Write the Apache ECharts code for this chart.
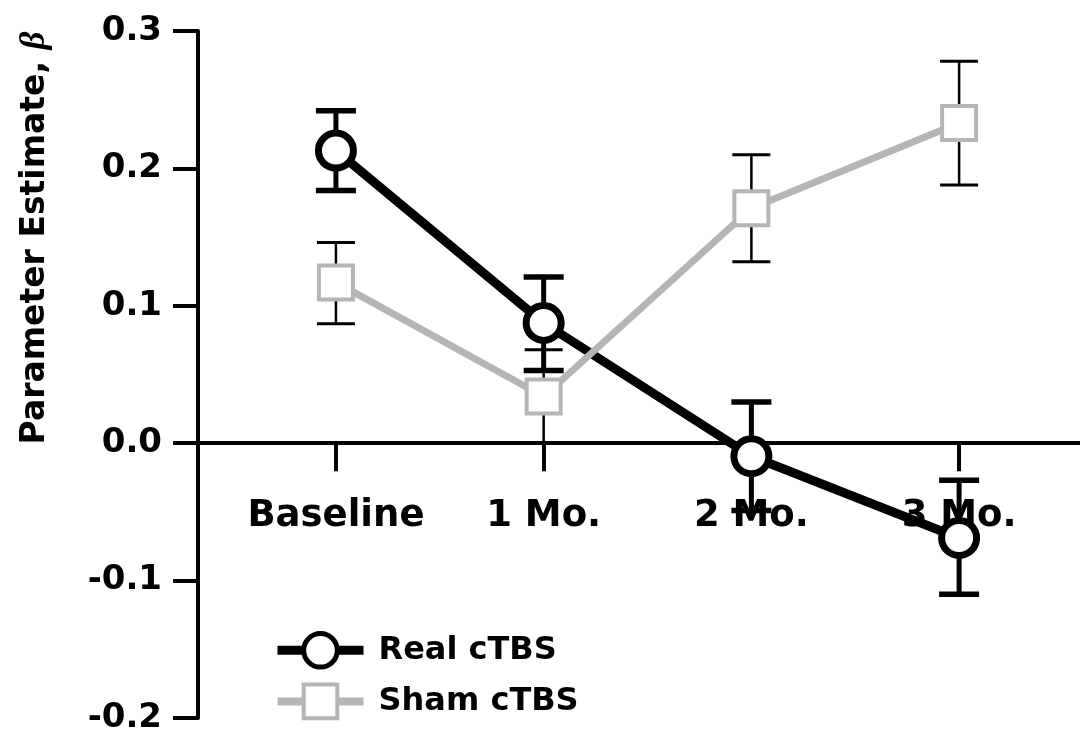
<!DOCTYPE html>
<html>
<head>
<meta charset="utf-8">
<script src="https://cdn.jsdelivr.net/npm/echarts@6/dist/echarts.min.js"></script>
<style>
html,body{margin:0;padding:0;background:#fff;}
#chart{width:1080px;height:738px;}
</style>
</head>
<body>
<div id="chart"></div>
<script>
const categories = ['Baseline', '1 Mo.', '2 Mo.', '3 Mo.'];
const realMean = [0.213, 0.0875, -0.0095, -0.069];
const realLow  = [0.184, 0.053, -0.049, -0.110];
const realHigh = [0.242, 0.121, 0.030, -0.027];
const shamMean = [0.117, 0.034, 0.171, 0.233];
const shamLow  = [0.087, 0.000, 0.132, 0.188];
const shamHigh = [0.146, 0.068, 0.210, 0.278];
const yTickLabels = ['-0.2', '-0.1', '0.0', '0.1', '0.2', '0.3'];
const seriesNames = ['Real cTBS', 'Sham cTBS'];
const yTitle = 'Parameter Estimate, ';
const yTitleSymbol = 'β';

const FONT = '"DejaVu Sans", sans-serif';
const GRAY = '#b5b5b5';
const X_MIN = -0.664, X_MAX = 3.582;

const catIdx = categories.map((c, i) => i);
const realLine = catIdx.map(i => [i, realMean[i]]);
const shamLine = catIdx.map(i => [i, shamMean[i]]);
const realErr = catIdx.map(i => [i, realLow[i], realHigh[i]]);
const shamErr = catIdx.map(i => [i, shamLow[i], shamHigh[i]]);

function errRender(width, capWidth, capHalf, color) {
  return function (params, api) {
    const x = api.value(0), lo = api.value(1), hi = api.value(2);
    const pLo = api.coord([x, lo]), pHi = api.coord([x, hi]);
    const st = {stroke: color, lineWidth: width};
    const cs = {stroke: color, lineWidth: capWidth};
    return {
      type: 'group',
      children: [
        {type: 'line', shape: {x1: pLo[0], y1: pLo[1], x2: pHi[0], y2: pHi[1]}, style: st},
        {type: 'line', shape: {x1: pLo[0] - capHalf, y1: pLo[1], x2: pLo[0] + capHalf, y2: pLo[1]}, style: cs},
        {type: 'line', shape: {x1: pHi[0] - capHalf, y1: pHi[1], x2: pHi[0] + capHalf, y2: pHi[1]}, style: cs}
      ]
    };
  };
}

const chart = echarts.init(document.getElementById('chart'), null, {renderer: 'canvas'});
chart.setOption({
  animation: false,
  backgroundColor: '#fff',
  grid: [
    {left: 198, right: 0, top: 31, bottom: 20, outerBoundsMode: 'none', containLabel: false},
    // label grid: bottom edge sits on the zero line
    {left: 198, right: 0, top: 31, bottom: 296, outerBoundsMode: 'none', containLabel: false}
  ],
  xAxis: [{
    type: 'value', gridIndex: 0,
    min: X_MIN, max: X_MAX,
    splitLine: {show: false},
    axisLine: {show: true, onZero: true, lineStyle: {color: '#000', width: 4}},
    axisTick: {show: true, customValues: catIdx, length: 28, lineStyle: {color: '#000', width: 4}},
    axisLabel: {show: false}
  }, {
    type: 'value', gridIndex: 1,
    min: X_MIN, max: X_MAX,
    splitLine: {show: false},
    axisLine: {show: false},
    axisTick: {show: false},
    axisLabel: {
      show: true, customValues: catIdx, margin: 56,
      formatter: v => categories[Math.round(v)],
      color: '#000', fontFamily: FONT, fontWeight: 'bold', fontSize: 37
    }
  }],
  yAxis: [{
    type: 'value', gridIndex: 0,
    min: -0.2, max: 0.3, interval: 0.1,
    splitLine: {show: false},
    axisLine: {show: true, onZero: false, lineStyle: {color: '#000', width: 4}},
    axisTick: {show: true, length: 25, lineStyle: {color: '#000', width: 4}},
    axisLabel: {
      margin: 36,
      formatter: v => yTickLabels[Math.round((v + 0.2) / 0.1)],
      color: '#000', fontFamily: FONT, fontWeight: 'bold', fontSize: 34
    }
  }, {
    type: 'value', gridIndex: 1, show: false, min: 0, max: 1
  }],
  legend: {
    orient: 'vertical',
    left: 273, top: 631, padding: 0,
    itemWidth: 86, itemHeight: 42, itemGap: 13,
    selectedMode: false,
    textStyle: {color: '#000', fontFamily: FONT, fontWeight: 'bold', fontSize: 32, padding: [0, 0, 0, 10]},
    data: [
      {name: seriesNames[0], itemStyle: {borderWidth: 5}, lineStyle: {width: 9}},
      {name: seriesNames[1], itemStyle: {borderWidth: 4}, lineStyle: {width: 8}}
    ]
  },
  graphic: [{
    type: 'text', x: 35, y: 238, rotation: Math.PI / 2,
    style: {
      text: '{a|' + yTitle + '}{b|' + yTitleSymbol + '}',
      align: 'center', verticalAlign: 'middle', fill: '#000',
      rich: {
        a: {fontFamily: FONT, fontWeight: 'bold', fontSize: 33, fill: '#000'},
        b: {fontFamily: '"Liberation Serif", serif', fontStyle: 'italic', fontWeight: 'bold', fontSize: 35, fill: '#000'}
      }
    }
  }],
  series: [
    {
      type: 'custom', name: 'shamErr', z: 3, silent: true,
      xAxisIndex: 0, yAxisIndex: 0,
      renderItem: errRender(2.5, 3, 19, '#000'),
      encode: {x: 0, y: [1, 2]},
      data: shamErr
    },
    {
      type: 'custom', name: 'realErr', z: 4, silent: true,
      xAxisIndex: 0, yAxisIndex: 0,
      renderItem: errRender(5, 5.5, 20, '#000'),
      encode: {x: 0, y: [1, 2]},
      data: realErr
    },
    {
      type: 'line', name: seriesNames[0], z: 5,
      xAxisIndex: 0, yAxisIndex: 0,
      data: realLine,
      symbol: 'circle', symbolSize: 35,
      lineStyle: {color: '#000', width: 9},
      itemStyle: {color: '#fff', borderColor: '#000', borderWidth: 7}
    },
    {
      type: 'line', name: seriesNames[1], z: 6,
      xAxisIndex: 0, yAxisIndex: 0,
      data: shamLine,
      symbol: 'rect', symbolSize: 34,
      lineStyle: {color: GRAY, width: 7},
      itemStyle: {color: '#fff', borderColor: GRAY, borderWidth: 4}
    }
  ]
});
</script>
</body>
</html>
